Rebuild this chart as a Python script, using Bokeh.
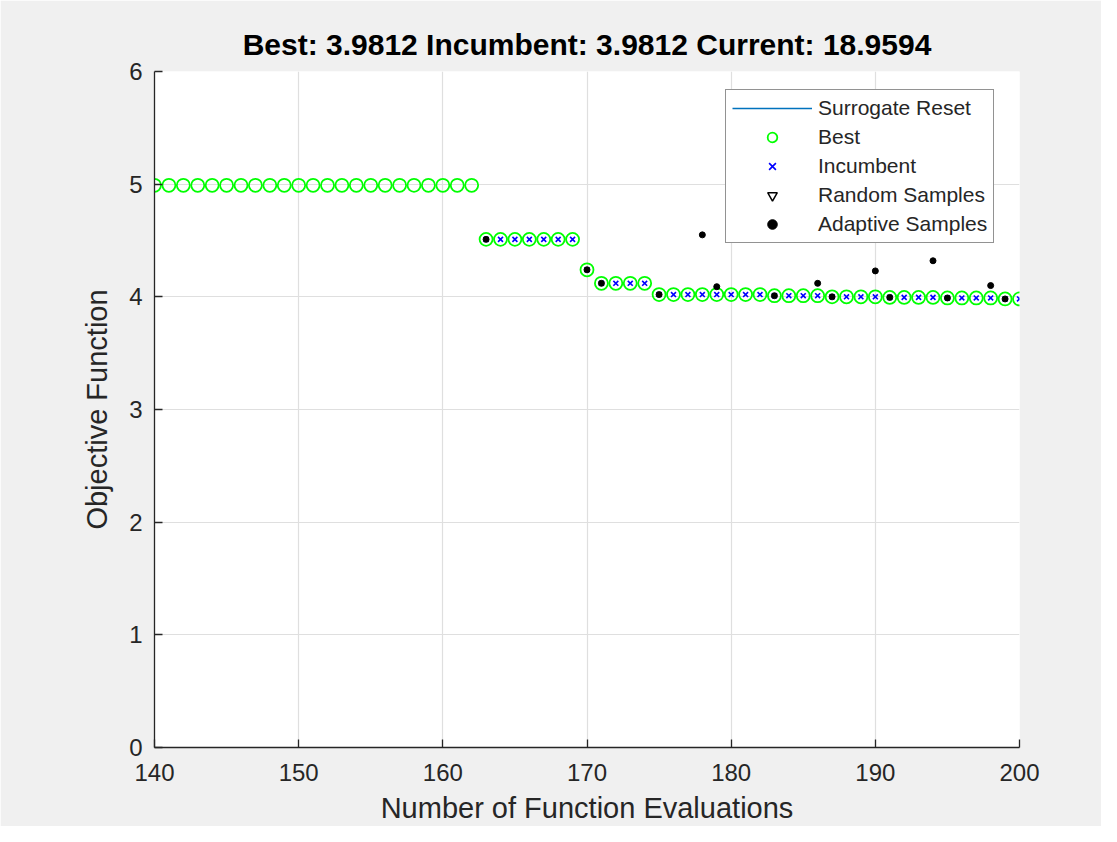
from bokeh.plotting import figure
from bokeh.models import Legend, LegendItem, FixedTicker, Range1d
from bokeh.embed import file_html
from bokeh.resources import INLINE

# ---- data ----
evals = [140, 141, 142, 143, 144, 145, 146, 147, 148, 149, 150, 151, 152, 153, 154,
         155, 156, 157, 158, 159, 160, 161, 162, 163, 164, 165, 166, 167, 168, 169,
         170, 171, 172, 173, 174, 175, 176, 177, 178, 179, 180, 181, 182, 183, 184,
         185, 186, 187, 188, 189, 190, 191, 192, 193, 194, 195, 196, 197, 198, 199, 200]
best = [4.99, 4.99, 4.99, 4.99, 4.99, 4.99, 4.99, 4.99, 4.99, 4.99, 4.99, 4.99, 4.99, 4.99, 4.99,
        4.99, 4.99, 4.99, 4.99, 4.99, 4.99, 4.99, 4.99, 4.51, 4.51, 4.51, 4.51, 4.51, 4.51, 4.51,
        4.24, 4.12, 4.12, 4.12, 4.12, 4.02, 4.02, 4.02, 4.02, 4.02, 4.02, 4.02, 4.02, 4.01, 4.01,
        4.01, 4.01, 4.00, 4.00, 4.00, 4.00, 3.995, 3.995, 3.995, 3.995, 3.99, 3.99, 3.99, 3.99,
        3.9812, 3.9812]

inc_evals = [163, 164, 165, 166, 167, 168, 169, 170, 171, 172, 173, 174, 175, 176, 177,
             178, 179, 180, 181, 182, 183, 184, 185, 186, 187, 188, 189, 190, 191, 192,
             193, 194, 195, 196, 197, 198, 199, 200]
incumbent = [4.51, 4.51, 4.51, 4.51, 4.51, 4.51, 4.51, 4.24, 4.12, 4.12, 4.12, 4.12, 4.02, 4.02, 4.02,
             4.02, 4.02, 4.02, 4.02, 4.02, 4.01, 4.01, 4.01, 4.01, 4.00, 4.00, 4.00, 4.00, 3.995, 3.995,
             3.995, 3.995, 3.99, 3.99, 3.99, 3.99, 3.9812, 3.9812]

adapt_evals = [163, 170, 171, 175, 178, 179, 183, 186, 187, 190, 191, 194, 195, 198, 199]
adaptive = [4.51, 4.24, 4.12, 4.02, 4.55, 4.09, 4.01, 4.12, 4.00, 4.23, 3.995, 4.32, 3.99, 4.10, 3.9812]

# no random samples / surrogate resets occur in this window (placeholders keep legend glyphs)
random_evals = [float("nan")]
random_vals = [float("nan")]
reset_evals = [float("nan"), float("nan")]
reset_vals = [float("nan"), float("nan")]

x_ticks = [140, 150, 160, 170, 180, 190, 200]
y_ticks = [0, 1, 2, 3, 4, 5, 6]
title_text = "Best: 3.9812 Incumbent: 3.9812 Current: 18.9594"

FONT = "Liberation Sans"
AX = "#262626"

p = figure(width=1101, height=826, output_backend="svg", toolbar_location=None,
           x_range=Range1d(140, 200), y_range=Range1d(0, 6),
           min_border_left=154, min_border_right=82, min_border_top=71, min_border_bottom=79)

p.background_fill_color = "white"
p.border_fill_color = "#F0F0F0"
p.outline_line_color = None

p.title.text = title_text
p.title.align = "center"
p.title.text_font = FONT
p.title.text_font_style = "bold"
p.title.text_font_size = "30px"
p.title.text_color = "black"
p.title.standoff = 21

for ax in (p.xaxis[0], p.yaxis[0]):
    ax.axis_line_color = AX
    ax.axis_line_width = 1.3
    ax.major_tick_line_color = AX
    ax.major_tick_line_width = 1.3
    ax.major_tick_in = 8
    ax.major_tick_out = 0
    ax.minor_tick_line_color = None
    ax.major_label_text_font = FONT
    ax.major_label_text_font_size = "24px"
    ax.major_label_text_color = AX
    ax.axis_label_text_font = FONT
    ax.axis_label_text_font_size = "29px"
    ax.axis_label_text_font_style = "normal"
    ax.axis_label_text_color = AX

p.xaxis.ticker = FixedTicker(ticks=x_ticks)
p.yaxis.ticker = FixedTicker(ticks=y_ticks)
p.xaxis.axis_label = "Number of Function Evaluations"
p.yaxis.axis_label = "Objective Function"
p.xaxis.major_label_standoff = 16
p.yaxis.major_label_standoff = 12
p.xaxis.axis_label_standoff = 8
p.yaxis.axis_label_standoff = 13

p.grid.grid_line_color = "#DFDFDF"
p.grid.grid_line_width = 1.2

r_reset = p.line(x=reset_evals, y=reset_vals, line_color="#0072BD", line_width=1.5)
r_best = p.scatter(x=evals, y=best, marker="circle", size=13, fill_color=None,
                   line_color="#00FF00", line_width=1.8)
r_inc = p.scatter(x=inc_evals, y=incumbent, marker="x", size=7,
                  line_color="#0000FF", line_width=1.6)
r_rand = p.scatter(x=random_evals, y=random_vals, marker="inverted_triangle", size=12,
                   fill_color=None, line_color="black", line_width=1.5)
r_adapt = p.scatter(x=adapt_evals, y=adaptive, marker="circle", size=6,
                    fill_color="black", line_color="black")

legend = Legend(items=[
    LegendItem(label="Surrogate Reset", renderers=[r_reset]),
    LegendItem(label="Best", renderers=[r_best]),
    LegendItem(label="Incumbent", renderers=[r_inc]),
    LegendItem(label="Random Samples", renderers=[r_rand]),
    LegendItem(label="Adaptive Samples", renderers=[r_adapt]),
])
legend.location = (571, 504)
legend.border_line_color = AX
legend.border_line_width = 1.3
legend.background_fill_color = "white"
legend.background_fill_alpha = 1.0
legend.label_text_font = FONT
legend.label_text_font_size = "21px"
legend.label_text_color = AX
legend.glyph_width = 80
legend.glyph_height = 24
legend.label_height = 24
legend.label_standoff = 6
legend.spacing = 5
legend.padding = 6
legend.margin = 0
p.add_layout(legend)

open("out.html", "w").write(file_html(p, INLINE))
